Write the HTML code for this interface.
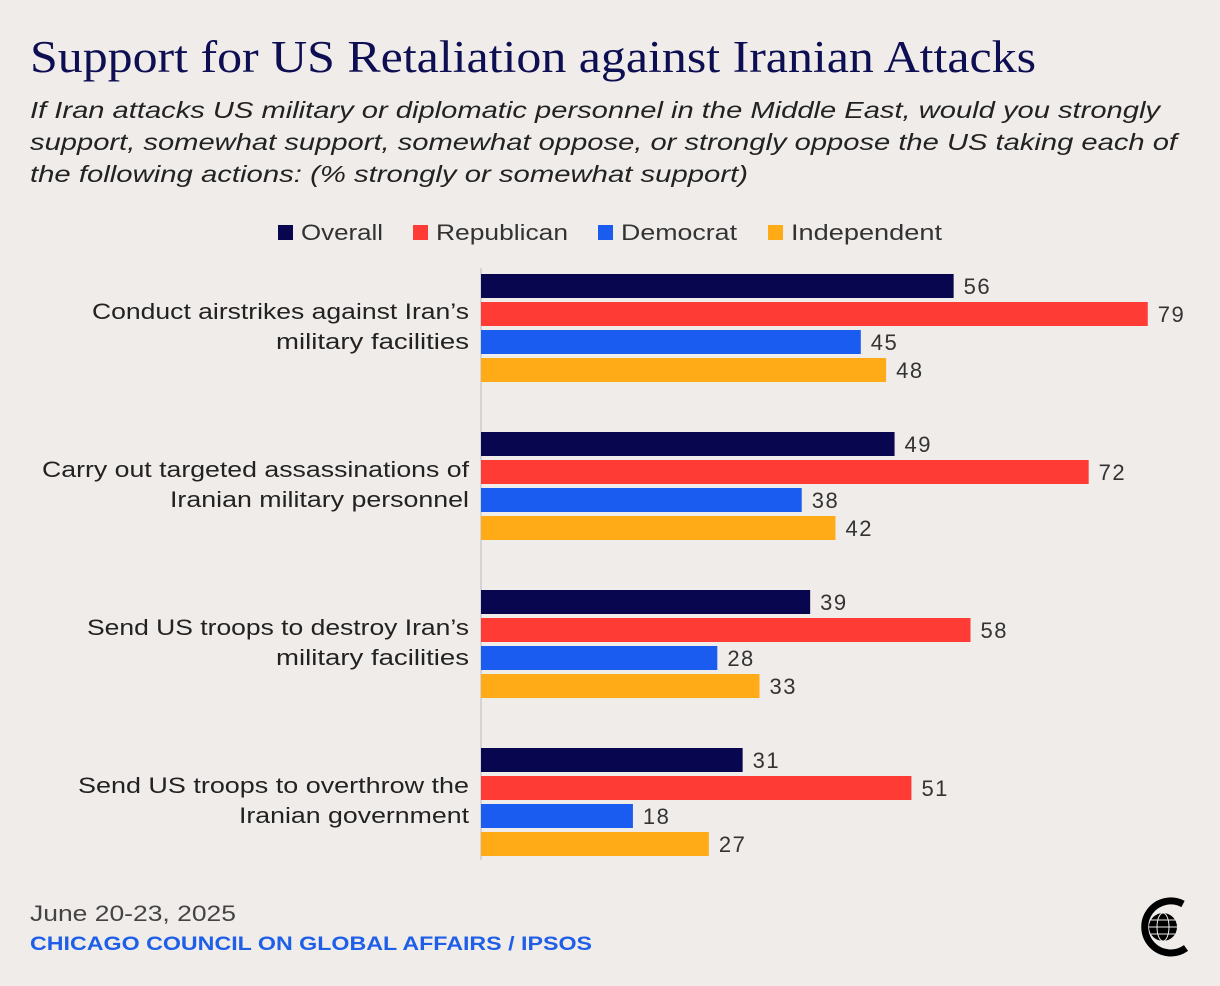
<!DOCTYPE html>
<html><head><meta charset="utf-8"><style>
body{margin:0;background:#f0ecea;}
svg{display:block;font-family:"Liberation Sans",sans-serif;}
</style></head><body>
<svg id="c" width="1220" height="986" viewBox="0 0 1220 986">
<rect width="1220" height="986" fill="#f0ecea"/>
<text x="30" y="72" font-family="Liberation Serif,serif" font-size="45" fill="#0e0f52" textLength="1006" lengthAdjust="spacingAndGlyphs">Support for US Retaliation against Iranian Attacks</text>
<g font-size="23" font-style="italic" fill="#222">
<text x="30" y="118" textLength="1130" lengthAdjust="spacingAndGlyphs">If Iran attacks US military or diplomatic personnel in the Middle East, would you strongly</text>
<text x="30" y="150" textLength="1147" lengthAdjust="spacingAndGlyphs">support, somewhat support, somewhat oppose, or strongly oppose the US taking each of</text>
<text x="30" y="182" textLength="718" lengthAdjust="spacingAndGlyphs">the following actions: (% strongly or somewhat support)</text>
</g>
<g id="legend" font-size="22" fill="#333"></g>
<line x1="481" y1="268" x2="481" y2="860" stroke="#ccc" stroke-width="1.5"/>
<g id="bars"></g>
<text x="30" y="921" font-size="22" fill="#444" textLength="206" lengthAdjust="spacingAndGlyphs">June 20-23, 2025</text>
<text x="30" y="950" font-size="19" font-weight="bold" fill="#1f5fe8" textLength="562" lengthAdjust="spacingAndGlyphs">CHICAGO COUNCIL ON GLOBAL AFFAIRS / IPSOS</text>
<g>
<path d="M1183 904 A26 26 0 1 0 1186 948" fill="none" stroke="#000" stroke-width="7"/>
<circle cx="1163" cy="927" r="14" fill="#000"/>
<g stroke="#f0ecea" stroke-width="1" fill="none"><ellipse cx="1163" cy="927" rx="6" ry="14"/><line x1="1149" y1="927" x2="1177" y2="927"/><line x1="1151" y1="920" x2="1175" y2="920"/><line x1="1151" y1="934" x2="1175" y2="934"/></g>
</g>
</svg>
<script>
const categories=[["Conduct airstrikes against Iran’s","military facilities"],["Carry out targeted assassinations of","Iranian military personnel"],["Send US troops to destroy Iran’s","military facilities"],["Send US troops to overthrow the","Iranian government"]];
const seriesNames=["Overall","Republican","Democrat","Independent"];
const colors=["#07064f","#ff3b36","#1a5cf0","#ffaa17"];
const overall=[56,49,39,31];
const republican=[79,72,58,51];
const democrat=[45,38,28,18];
const independent=[48,42,33,27];
const series=[overall,republican,democrat,independent];
const labelLens=[[377,193],[427,299],[382,193],[391,230]];
const NS="http://www.w3.org/2000/svg";
const x0=481,k=8.44;
const xs=v=>x0+v*k;
function el(t,a,p){const e=document.createElementNS(NS,t);for(const q in a)e.setAttribute(q,a[q]);p.appendChild(e);return e;}
const bars=document.getElementById('bars'),leg=document.getElementById('legend');
const lx=[278,413,598,768],lw=[82,132,116,151];
seriesNames.forEach((n,i)=>{
 const r=el('rect',{x:lx[i],y:225,width:15,height:15,fill:colors[i]},leg);
 
 
 const t=el('text',{x:lx[i]+23,y:240,textLength:lw[i],lengthAdjust:'spacingAndGlyphs'},leg);t.textContent=n;
 
 
});
categories.forEach((c,g)=>{
 const gy=274+g*158;
 c.forEach((l,j)=>{const t=el('text',{x:469-labelLens[g][j],y:gy+45+j*30,'font-size':22,fill:'#222',textLength:labelLens[g][j],lengthAdjust:'spacingAndGlyphs'},bars);t.textContent=l;
  
  });
 series.forEach((s,i)=>{
  const y=gy+i*28;
  const r=el('rect',{x:x0,y:y,width:xs(s[g])-x0,height:24,fill:colors[i]},bars);
  
  
  const t=el('text',{x:xs(s[g])+10,y:y+20,'font-size':22,fill:'#333','letter-spacing':1.5},bars);t.textContent=s[g];
  
  
 });
});
</script>
</body></html>
